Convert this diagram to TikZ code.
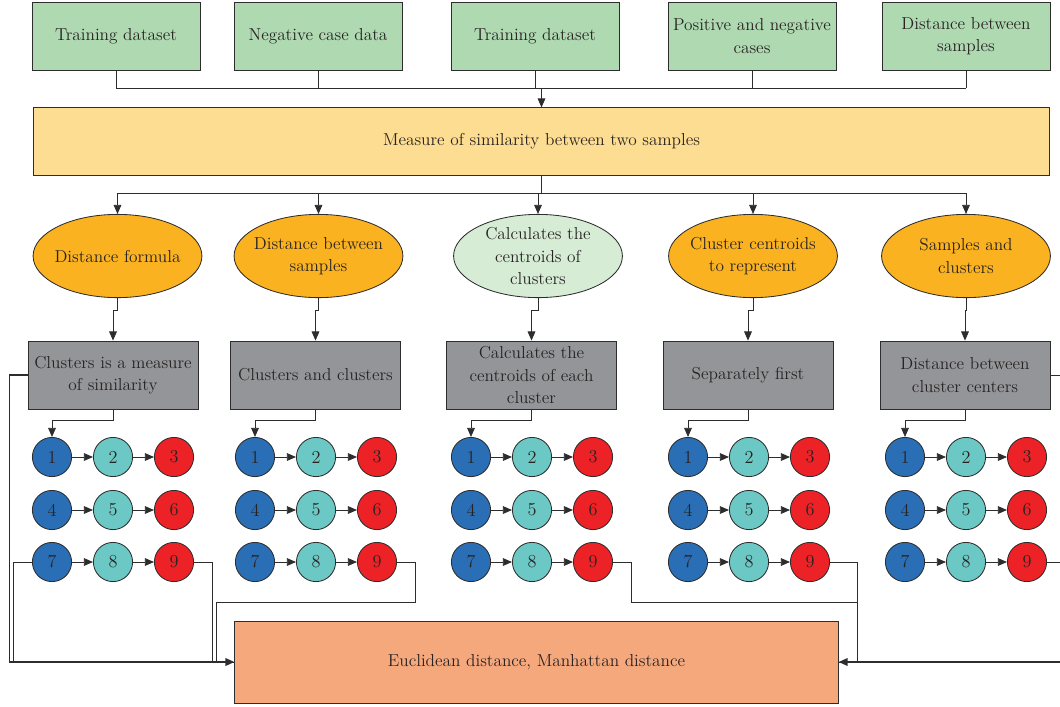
\documentclass[tikz,border=0pt]{standalone}
\usetikzlibrary{arrows.meta,shapes.geometric}

\definecolor{linegray}{RGB}{45,45,45}
\definecolor{txtdark}{RGB}{40,35,35}
\definecolor{srcgreen}{RGB}{174,217,177}
\definecolor{msryellow}{RGB}{253,221,145}
\definecolor{ellorange}{RGB}{251,178,32}
\definecolor{ellgreen}{RGB}{214,236,213}
\definecolor{stepgray}{RGB}{147,149,152}
\definecolor{resorange}{RGB}{245,168,124}
\definecolor{dotblue}{RGB}{42,110,181}
\definecolor{dotteal}{RGB}{108,200,196}
\definecolor{dotred}{RGB}{236,34,39}

\newcommand{\boxfont}{\fontsize{12.3}{16}\selectfont}

\tikzset{
  src/.style={draw=linegray, fill=srcgreen, minimum width=4.2cm, minimum height=1.7cm, align=center, inner sep=2pt},
  msr/.style={draw=linegray, fill=msryellow, minimum width=25.4cm, minimum height=1.68cm},
  oval/.style={ellipse, draw=linegray, fill=ellorange, minimum width=4.22cm, minimum height=2.08cm, inner xsep=-8pt, inner ysep=-5pt, align=center},
  stepbox/.style={draw=linegray, fill=stepgray, minimum width=4.25cm, minimum height=1.7cm, align=center, inner sep=2pt},
  dot/.style={circle, draw=linegray, minimum size=0.98cm, inner sep=0pt, font=\fontsize{13}{15}\selectfont},
  res/.style={draw=linegray, fill=resorange, minimum width=15.08cm, minimum height=2.05cm},
}

\begin{document}
\begin{tikzpicture}[x=0.025cm, y=-0.025cm, line width=0.6pt, draw=linegray,
    >={Triangle[length=6.5pt,width=5.5pt]},
    every node/.style={font=\boxfont, text=txtdark}]
  \useasboundingbox (0,0) rectangle (1060,706);

  % input boxes
  \node[src] (t1) at (116,36) {Training dataset};
  \node[src] (t2) at (318,36) {Negative case data};
  \node[src] (t3) at (535,36) {Training dataset};
  \node[src] (t4) at (752,36) {Positive and negative\\cases};
  \node[src] (t5) at (966,36) {Distance between\\samples};

  \node[msr] (msr) at (541.5,141.5) {Measure of similarity between two samples};

  \coordinate (jt) at (541.5,88);
  \coordinate (jb) at (541.5,193);
  \draw (t1.south |- jt) -- (t5.south |- jt);
  \foreach \g in {1,...,5}
    \draw (t\g.south) -- (t\g.south |- jt);
  \draw[->] (jt) -- (msr.north);

  % ellipses
  \node[oval] (e1) at (117.5,256) {Distance formula};
  \node[oval] (e2) at (318.5,256) {Distance between\\samples};
  \node[oval, fill=ellgreen] (e3) at (538,256) {Calculates the\\centroids of\\clusters};
  \node[oval] (e4) at (753,256) {Cluster centroids\\to represent};
  \node[oval] (e5) at (966,256) {Samples and\\clusters};

  \draw (msr.south) -- (jb);
  \draw (e1.north |- jb) -- (e5.north |- jb);
  \foreach \g in {1,...,5}
    \draw[->] (e\g.north |- jb) -- (e\g.north);

  % gray boxes
  \node[stepbox] (g1) at (113,375) {Clusters is a measure\\of similarity};
  \node[stepbox] (g2) at (315.5,375) {Clusters and clusters};
  \node[stepbox] (g3) at (531.5,375) {Calculates the\\centroids of each\\cluster};
  \node[stepbox] (g4) at (748,375) {Separately first};
  \node[stepbox] (g5) at (965,375) {Distance between\\cluster centers};

  % circles
  \foreach \g/\xx in {1/52,2/255,3/471,4/688,5/905}{
    \foreach \r/\yy in {0/457,1/510,2/562}{
      \pgfmathtruncatemacro{\na}{3*\r+1}
      \pgfmathtruncatemacro{\nb}{3*\r+2}
      \pgfmathtruncatemacro{\nc}{3*\r+3}
      \node[dot, fill=dotblue] (c\g-\na) at (\xx,\yy) {\na};
      \node[dot, fill=dotteal] (c\g-\nb) at (\xx+61,\yy) {\nb};
      \node[dot, fill=dotred] (c\g-\nc) at (\xx+122,\yy) {\nc};
      \draw[->] (c\g-\na) -- (c\g-\nb);
      \draw[->] (c\g-\nb) -- (c\g-\nc);
    }
    \draw[->] (e\g.south) -- ++(0,12) -| (g\g.north);
    \draw[->] (g\g.south) -- ++(0,11) -| (c\g-1.north);
  }

  \node[res] (res) at (536.5,662) {Euclidean distance, Manhattan distance};

  % links to the result
  \draw (c1-7.west) -- ++(-19,0) |- (res.west);
  \draw (c1-9.east) -- ++(18,0) |- (res.west);
  \draw (c2-9.east) -- ++(18,0) |- (216,602) |- (res.west);
  \draw[->, line width=1.1pt] (g1.west) -- ++(-18,0) |- (res.west);

  \coordinate (rg) at (1060,375);
  \coordinate (rc) at (1060,562);
  \coordinate (rb) at (1060,662);
  \draw (c3-9.east) -- ++(18,0) |- (857,602) |- (res.east);
  \draw (c4-9.east) -- ++(27,0) |- (res.east);
  \draw (g5.east) -- (rg);
  \draw (c5-9.east) -- (rc);
  \draw[->, line width=1.1pt] (rb) -- (res.east);
\end{tikzpicture}
\end{document}
